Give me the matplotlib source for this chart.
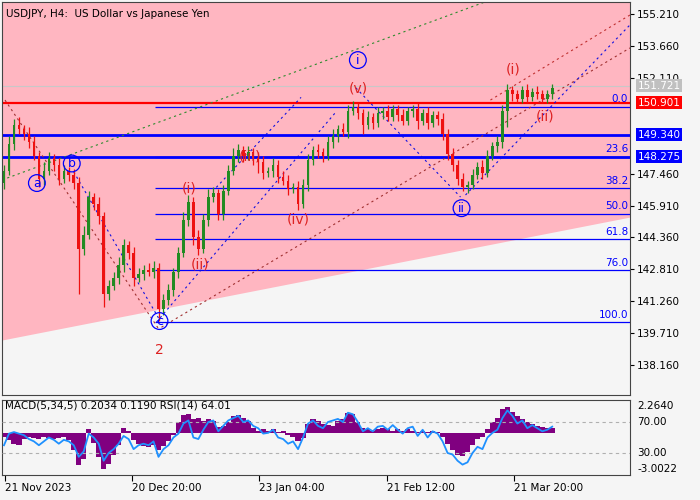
import matplotlib
matplotlib.use("Agg")
import matplotlib.pyplot as plt
import numpy as np

plt.rcParams["font.family"] = ["DejaVu Sans"]

# ---- price data (H4 bars, one entry every 5 px) ----
closes = [147.6, 148.9, 149.8, 149.6, 149.4, 149.0, 148.3, 147.2, 147.6, 148.2,
          147.9, 147.2, 147.6, 147.4, 147.0, 143.8, 144.5, 146.3, 146.0, 145.4,
          141.6, 142.0, 142.4, 143.0, 144.0, 143.6, 142.4, 142.6, 142.8, 142.7,
          142.9, 140.9, 141.3, 141.8, 142.7, 143.6, 145.2, 146.1, 144.4, 143.8,
          145.2, 146.3, 146.5, 145.5, 146.6, 147.6, 148.3, 148.6, 148.3, 148.5,
          148.2, 148.0, 147.5, 147.6, 147.9, 147.3, 147.1, 146.7, 146.8, 146.0,
          146.9, 148.1, 148.6, 148.5, 148.3, 149.0, 149.3, 149.6, 149.5, 150.5,
          150.7, 150.4, 149.8, 150.2, 149.9, 150.4, 150.5, 150.2, 150.6, 150.3,
          150.0, 150.5, 150.6, 150.0, 150.4, 149.9, 150.3, 150.1, 149.4, 148.4,
          147.9, 147.2, 146.8, 146.9, 147.4, 147.8, 147.5, 148.3, 148.8, 149.0,
          150.5, 151.5, 151.3, 151.1, 151.5, 151.2, 151.4, 151.3, 151.1, 151.3,
          151.6]
first_open = 147.0
wick_up = [0.3, 0.4, 0.3, 0.4, 0.2, 0.3, 0.3, 0.2, 0.4, 0.3,
           0.2, 0.3, 0.3, 0.2, 0.3, 0.3, 0.4, 0.3, 0.2, 0.3,
           0.2, 0.3, 0.3, 0.4, 0.3, 0.2, 0.3, 0.3, 0.2, 0.3,
           0.3, 0.2, 0.3, 0.3, 0.2, 0.3, 0.4, 0.3, 0.2, 0.3,
           0.3, 0.4, 0.3, 0.2, 0.3, 0.3, 0.4, 0.3, 0.2, 0.3,
           0.2, 0.3, 0.3, 0.2, 0.3, 0.2, 0.3, 0.3, 0.2, 0.3,
           0.3, 0.3, 0.2, 0.3, 0.2, 0.3, 0.3, 0.2, 0.3, 0.3,
           0.3, 0.2, 0.2, 0.3, 0.2, 0.3, 0.2, 0.3, 0.2, 0.2,
           0.3, 0.2, 0.2, 0.3, 0.2, 0.3, 0.2, 0.2, 0.3, 0.2,
           0.3, 0.2, 0.3, 0.2, 0.3, 0.2, 0.3, 0.3, 0.2, 0.3,
           0.3, 0.3, 0.2, 0.2, 0.2, 0.3, 0.2, 0.3, 0.2, 0.2,
           0.2]
wick_dn = [0.3, 0.2, 0.3, 0.2, 0.3, 0.3, 0.2, 0.4, 0.3, 0.2,
           0.3, 0.3, 0.2, 0.3, 0.3, 2.2, 0.3, 0.2, 0.3, 0.4,
           0.6, 0.3, 0.2, 0.3, 0.3, 0.3, 0.4, 0.2, 0.3, 0.2,
           0.3, 0.6, 0.3, 0.2, 0.3, 0.3, 0.2, 0.3, 0.4, 0.3,
           0.2, 0.3, 0.2, 0.3, 0.3, 0.2, 0.2, 0.3, 0.3, 0.2,
           0.3, 0.5, 0.3, 0.2, 0.3, 0.3, 0.2, 0.3, 0.2, 0.3,
           0.2, 0.3, 0.2, 0.3, 0.3, 0.2, 0.3, 0.3, 0.2, 0.3,
           0.2, 0.3, 0.4, 0.2, 0.3, 0.2, 0.3, 0.2, 0.2, 0.3,
           0.2, 0.2, 0.3, 0.4, 0.2, 0.3, 0.2, 0.3, 0.3, 0.3,
           0.3, 0.3, 0.2, 0.3, 0.2, 0.2, 0.3, 0.2, 0.2, 0.3,
           0.3, 0.8, 0.3, 0.2, 0.2, 0.3, 0.2, 0.2, 0.2, 0.2,
           0.2]

macd_hist = [-0.3, -0.6, -0.9, -1.0, -0.5, -0.3, -0.4, -0.5, -0.3, -0.4,
             -0.5, -0.4, -0.3, -0.6, -1.4, -2.7, -2.2, 0.3, -0.8, -2.0,
             -3.0, -2.6, -1.8, -1.0, 0.4, 0.2, -0.6, -0.9, -1.1, -1.2,
             -1.0, -1.4, -1.1, -0.7, -0.2, 0.9, 1.5, 1.6, 1.2, 1.3,
             1.0, 1.2, 1.0, 0.5, 0.6, 0.9, 1.4, 1.5, 1.3, 1.0,
             0.4, 0.2, 0.3, 0.2, 0.3, 0.1, 0.2, -0.2, -0.3, -0.7,
             -0.4, 0.8, 1.2, 1.0, 0.8, 0.7, 0.6, 1.0, 1.2, 1.7,
             1.6, 0.9, 0.4, 0.3, 0.2, 0.3, 0.4, 0.3, 0.2, 0.3,
             0.2, 0.3, 0.2, 0.1, 0.2, 0.1, 0.2, 0.1, -0.3, -0.9,
             -1.4, -1.8, -1.9, -1.6, -1.0, -0.5, -0.3, 0.3, 0.9, 1.3,
             2.0, 2.2, 1.8, 1.4, 1.2, 0.9, 0.8, 0.6, 0.5, 0.4,
             0.4]
rsi = [40, 55, 57, 55, 53, 48, 45, 40, 45, 50,
       47, 42, 47, 45, 40, 25, 32, 55, 50, 42,
       20, 30, 35, 42, 52, 48, 35, 40, 42, 40,
       45, 25, 35, 40, 50, 55, 68, 72, 50, 48,
       60, 70, 72, 58, 65, 72, 75, 78, 70, 72,
       65, 62, 55, 56, 60, 50, 48, 42, 45, 35,
       50, 68, 72, 65, 62, 70, 72, 74, 70, 82,
       80, 70, 58, 62, 58, 64, 65, 60, 66, 60,
       55, 62, 64, 52, 60, 50, 58, 55, 45, 30,
       28, 20, 15, 18, 30, 38, 35, 50, 56, 60,
       75, 85, 78, 68, 72, 62, 66, 62, 58, 60,
       64]

# ---- levels and analysis drawings ----
price_ticks = [155.210, 153.660, 152.110, 147.460,
               145.910, 144.360, 142.810, 141.260, 139.710, 138.160]
bid_price = 151.721
red_level = 150.901
blue_levels = [149.340, 148.275]
fib_names = ["0.0", "23.6", "38.2", "50.0", "61.8", "76.0", "100.0"]
fib_prices = [150.70, 148.27, 146.74, 145.50, 144.26, 142.77, 140.25]
fib_start = 153

zone_left = (0, 139.38)
zone_right = (630, 145.35)

# (x0, p0, x1, p1, colour)
trend_lines = [
    (0, 147.15, 490, 155.89, "#2e8b2e"),
    (3, 151.03, 158, 139.86, "#a03030"),
    (160, 140.00, 630, 153.56, "#a03030"),
    (490, 151.03, 630, 155.16, "#c03030"),
    (72, 147.54, 157, 140.45, "#1010e0"),
    (155, 140.25, 335, 150.45, "#1010e0"),
    (215, 146.79, 300, 151.16, "#1010e0"),
    (355, 151.62, 460, 146.32, "#1010e0"),
    (465, 146.42, 630, 154.68, "#1010e0"),
]

circ_text = ["a", "b", "c", "i", "ii"]
circ_x = [35, 70, 158, 357, 461]
circ_p = [147.0, 147.95, 140.3, 152.97, 145.78]
red_text = ["2", "(i)", "(ii)", "(iii)", "(iv)", "(v)", "(i)", "(ii)"]
red_x = [158, 188, 199, 249, 297, 357, 513, 545]
red_p = [138.88, 146.75, 143.05, 148.28, 145.23, 151.6, 152.52, 150.21]

date_labels = ["21 Nov 2023", "20 Dec 20:00", "23 Jan 04:00", "21 Feb 12:00", "21 Mar 20:00"]
date_x = [3, 130, 258, 386, 514]

BG = "#f5f5f5"
PINK = "#ffb6c1"
BLUE = "#0000ff"
FS = 7.5

fig = plt.figure(figsize=(7, 5), dpi=100, facecolor=BG)
ax = fig.add_axes([2 / 700, 105 / 500, 628 / 700, 393 / 500])
ax.set_facecolor(BG)
ax.set_xlim(0, 630)
ax.set_ylim(136.71, 155.79)

# pink zone above the sloped boundary
ax.fill_between([zone_left[0], zone_right[0]], [zone_left[1], zone_right[1]], 160,
                color=PINK, lw=0, zorder=0)

# candles
xs = 2 + 5 * np.arange(len(closes))
opens = [first_open] + closes[:-1]
for x, o, c, wu, wd in zip(xs, opens, closes, wick_up, wick_dn):
    col = "#228b22" if c >= o else "#ee1111"
    ax.vlines(x, min(o, c) - wd, max(o, c) + wu, color=col, lw=0.9, zorder=3)
    ax.bar(x, abs(c - o) or 0.03, bottom=min(o, c), width=2.6, color=col, lw=0, zorder=3)

# horizontal levels
ax.axhline(bid_price, color="#c8c8c8", lw=0.8, zorder=1)
ax.axhline(red_level, color="#ff0000", lw=1.6, zorder=2)
for lv in blue_levels:
    ax.axhline(lv, color=BLUE, lw=2, zorder=2)
for name, p in zip(fib_names, fib_prices):
    ax.hlines(p, fib_start, 630, color=BLUE, lw=0.9, zorder=2)
    ax.text(628, p + 0.12, name, color=BLUE, fontsize=FS, ha="right", va="bottom", zorder=4)

for x0, p0, x1, p1, col in trend_lines:
    ax.plot([x0, x1], [p0, p1], color=col, lw=0.8, ls=(0, (2, 3)), zorder=2)

for t, x, p in zip(circ_text, circ_x, circ_p):
    ax.text(x, p, t, color=BLUE, fontsize=9, ha="center", va="center", zorder=5,
            bbox=dict(boxstyle="circle,pad=0.15", fc="none", ec=BLUE, lw=0.9))
for t, x, p in zip(red_text, red_x, red_p):
    ax.text(x, p, t, color="#dd2222", fontsize=10, ha="center", va="center", zorder=5)

ax.text(4, 155.21 - (12 - 14) / 20.59 - 0.1, "USDJPY, H4:  US Dollar vs Japanese Yen",
        fontsize=FS, ha="left", va="center", color="black")

ax.set_xticks([])
ax.yaxis.tick_right()
ax.set_yticks(price_ticks)
ax.set_yticklabels([f"{v:.3f}" for v in price_ticks], fontsize=FS)
ax.tick_params(axis="y", length=3, pad=2)
for p, fc, tc in [(bid_price, "#c0c0c0", "white"), (red_level, "#ff0000", "white"),
                  (blue_levels[0], BLUE, "white"), (blue_levels[1], BLUE, "white")]:
    ax.text(1.012, p, f"{p:.3f}", transform=ax.get_yaxis_transform(), fontsize=FS,
            color=tc, ha="left", va="center", zorder=6,
            bbox=dict(boxstyle="square,pad=0.15", fc=fc, ec="none"))
for s in ax.spines.values():
    s.set_color("#444444")
    s.set_linewidth(0.8)

# ---- MACD / RSI panel ----
mx = fig.add_axes([2 / 700, 25 / 500, 628 / 700, 75 / 500])
mx.set_facecolor(BG)
mx.set_xlim(0, 630)
mx.set_ylim(-3.504, 2.766)
mx.bar(xs, macd_hist, width=5.2, color="#800080", lw=0, zorder=2)
mx.set_yticks([])
mx.set_xticks(date_x)
mx.set_xticklabels(date_labels, fontsize=FS, ha="left")
mx.tick_params(axis="x", length=4, pad=2)
for s in mx.spines.values():
    s.set_color("#444444")
    s.set_linewidth(0.8)

rx = mx.twinx()
rx.set_ylim(1.6, 98.4)
rx.axhline(70, color="#b0b0b0", lw=0.8, ls=(0, (3, 3)))
rx.axhline(30, color="#b0b0b0", lw=0.8, ls=(0, (3, 3)))
rx.plot(xs, rsi, color="#1e90ff", lw=1.3, zorder=3)
rx.set_yticks([])
for s in rx.spines.values():
    s.set_visible(False)

mx.text(3, 2.3, "MACD(5,34,5) 0.2034 0.1190 RSI(14) 64.01", fontsize=FS, va="center")
for v, txt in [(2.264, "2.2640"), (-3.0022, "-3.0022")]:
    mx.text(1.012, v, txt, transform=mx.get_yaxis_transform(), fontsize=FS, va="center")
for v in (70, 30):
    rx.text(1.012, v, f"{v:.2f}", transform=rx.get_yaxis_transform(), fontsize=FS, va="center")

fig.savefig("out.png", dpi=100, facecolor=BG)
